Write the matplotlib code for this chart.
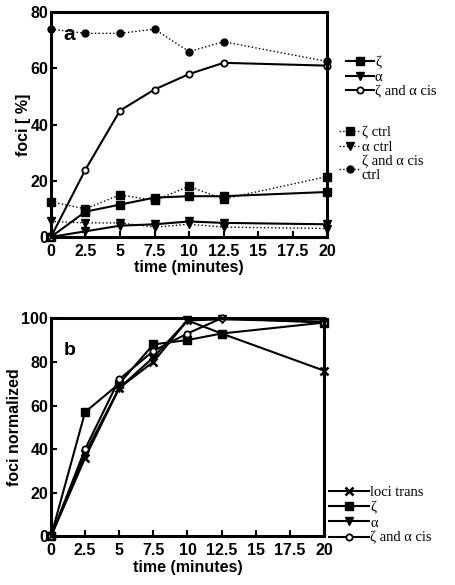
import matplotlib
matplotlib.use("Agg")
import matplotlib.pyplot as plt

# time points (minutes)
t = [0, 2.5, 5, 7.5, 10, 12.5, 20]

# panel a: foci [%]
zeta = [0, 9, 11.5, 14, 14.5, 14.5, 16]
alpha = [0, 2, 4, 4.5, 5.5, 5, 4.5]
cis = [0, 24, 45, 52.5, 58, 62, 61]
zeta_ctrl = [12.5, 10, 15, 13, 18, 13.5, 21.5]
alpha_ctrl = [5.5, 5, 5, 3.5, 4.5, 3.5, 3]
cis_ctrl = [74, 72.5, 72.5, 74, 66, 69.5, 62.5]

# panel b: foci normalized
loci_trans = [0, 36, 68, 80, 99, 93, 76]
zeta_n = [0, 57, 70, 88, 90, 93, 98]
alpha_n = [0, 38, 68, 82, 99, 99.5, 98.5]
cis_n = [0, 40, 72, 85, 93, 100, 98]

xticks = [0, 2.5, 5, 7.5, 10, 12.5, 15, 17.5, 20]
xticklabels = ["0", "2.5", "5", "7.5", "10", "12.5", "15", "17.5", "20"]

tickfont = {"family": "Liberation Sans", "weight": "bold", "size": 11.5}
legfont = {"family": "Liberation Serif", "size": 10.5}

fig = plt.figure(figsize=(4.55, 5.85), dpi=100)
ax1 = fig.add_axes([0.112, 0.595, 0.607, 0.384])
ax2 = fig.add_axes([0.112, 0.083, 0.600, 0.373])


def style_axes(ax, ylim, yticks, ylabel):
    ax.set_xlim(0, 20)
    ax.set_ylim(*ylim)
    ax.set_xticks(xticks)
    ax.set_xticklabels(xticklabels, fontdict=tickfont)
    ax.set_yticks(yticks)
    ax.set_yticklabels([str(v) for v in yticks], fontdict=tickfont)
    ax.set_xlabel("time (minutes)", fontdict=tickfont, labelpad=1)
    ax.set_ylabel(ylabel, fontdict=tickfont, labelpad=-0.5)
    for s in ax.spines.values():
        s.set_linewidth(2.2)
    ax.tick_params(axis="x", direction="in", length=4, width=1.5, pad=5)
    ax.tick_params(axis="y", direction="in", length=4, width=1.5, pad=2)


def small_legend(handles, labels, anchor, hlen, spacing):
    leg = fig.legend(handles, labels, loc="upper left", bbox_to_anchor=anchor,
                     frameon=False, prop=legfont, handlelength=hlen,
                     handletextpad=0.1, labelspacing=spacing, borderpad=0,
                     borderaxespad=0)
    for txt in leg.get_texts():
        txt.set_linespacing(1.05)
    return leg


# panel a
l1, = ax1.plot(t, zeta, "-", color="k", lw=1.5, marker="s", ms=6, clip_on=False)
l2, = ax1.plot(t, alpha, "-", color="k", lw=1.5, marker="v", ms=6, clip_on=False)
l3, = ax1.plot(t, cis, "-", color="k", lw=1.5, marker="o", ms=4.5,
               mfc="white", mew=1.3, clip_on=False)
l4, = ax1.plot(t, zeta_ctrl, ":", color="k", lw=1, marker="s", ms=6, clip_on=False)
l5, = ax1.plot(t, alpha_ctrl, ":", color="k", lw=1, marker="v", ms=6, clip_on=False)
l6, = ax1.plot(t, cis_ctrl, ":", color="k", lw=1, marker="o", ms=5, clip_on=False)
style_axes(ax1, (0, 80), [0, 20, 40, 60, 80], "foci [ %]")
ax1.text(0.045, 0.875, "a", transform=ax1.transAxes, fontdict={**tickfont, "size": 15})

small_legend([l1, l2, l3], ["ζ", "α", "ζ and α cis"], (0.76, 0.904), 1.9, 0.08)
small_legend([l4, l5, l6], ["ζ ctrl", "α ctrl", "ζ and α cis\nctrl"], (0.745, 0.784), 1.45, 0.1)

# panel b
m1, = ax2.plot(t, loci_trans, "-", color="k", lw=1.5, marker="x", ms=6, mew=1.8, clip_on=False)
m2, = ax2.plot(t, zeta_n, "-", color="k", lw=1.5, marker="s", ms=6, clip_on=False)
m3, = ax2.plot(t, alpha_n, "-", color="k", lw=1.5, marker="v", ms=6, clip_on=False)
m4, = ax2.plot(t, cis_n, "-", color="k", lw=1.5, marker="o", ms=4.5,
               mfc="white", mew=1.3, clip_on=False)
style_axes(ax2, (0, 100), [0, 20, 40, 60, 80, 100], "foci normalized")
ax2.text(0.045, 0.83, "b", transform=ax2.transAxes, fontdict={**tickfont, "size": 14})

small_legend([m1, m2, m3, m4], ["loci trans", "ζ", "α", "ζ and α cis"], (0.722, 0.169), 2.75, 0.13)

fig.savefig("out.png", dpi=100)
